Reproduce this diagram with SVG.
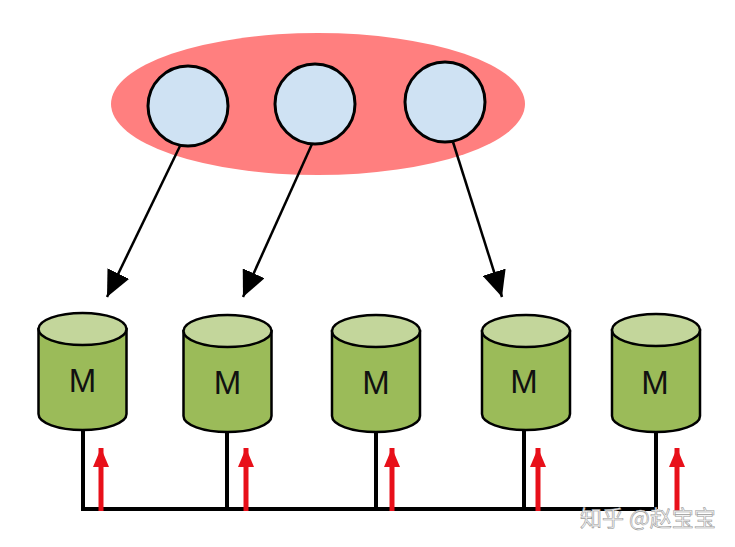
<svg xmlns="http://www.w3.org/2000/svg" width="735" height="547" viewBox="0 0 735 547">
<style>
.node circle{fill:#cfe2f3;stroke:#000;stroke-width:3}
.cyl path,.cyl ellipse{stroke:#000;stroke-width:2.5}
.body{fill:#9bbb59}
.top{fill:#c3d69b}
.lbl{font-family:"Liberation Sans",Arial,sans-serif;font-size:33px;fill:#111;text-anchor:middle}
.conn{stroke:#000;stroke-width:2.5;fill:none}
.bus{stroke:#000;stroke-width:4;fill:none}
.red{stroke:#e8101a;stroke-width:5;fill:none}
</style>
<defs>
<marker id="ah" markerUnits="userSpaceOnUse" markerWidth="28" markerHeight="24" refX="26" refY="12" orient="auto">
<path d="M0,0 L26,12 L0,24 Z" fill="#000"/>
</marker>
<marker id="rh" markerUnits="userSpaceOnUse" markerWidth="20" markerHeight="16" refX="19" refY="8" orient="auto">
<path d="M0,0 L19,8 L0,16 Z" fill="#e8101a"/>
</marker>
</defs>
<ellipse id="group" cx="318" cy="104" rx="207" ry="71" fill="#ff7f7f"/>
<g id="c1" class="node"><circle cx="188" cy="106" r="40"/></g>
<g id="c2" class="node"><circle cx="315" cy="104" r="40"/></g>
<g id="c3" class="node"><circle cx="445" cy="102" r="40"/></g>
<g id="m1" class="cyl">
<path class="body" d="M38.5,329 L38.5,414 A44,16 0 0 0 126.5,414 L126.5,329 Z"/>
<ellipse class="top" cx="82.5" cy="329" rx="44" ry="16"/>
<text class="lbl" x="82.5" y="392">M</text>
</g>
<g id="m2" class="cyl">
<path class="body" d="M183.5,331 L183.5,416 A44,16 0 0 0 271.5,416 L271.5,331 Z"/>
<ellipse class="top" cx="227.5" cy="331" rx="44" ry="16"/>
<text class="lbl" x="227.5" y="394">M</text>
</g>
<g id="m3" class="cyl">
<path class="body" d="M332,331 L332,416 A44,16 0 0 0 420,416 L420,331 Z"/>
<ellipse class="top" cx="376" cy="331" rx="44" ry="16"/>
<text class="lbl" x="376" y="394">M</text>
</g>
<g id="m4" class="cyl">
<path class="body" d="M482,331 L482,414 A44,16 0 0 0 570,414 L570,331 Z"/>
<ellipse class="top" cx="526" cy="331" rx="44" ry="16"/>
<text class="lbl" x="524" y="393">M</text>
</g>
<g id="m5" class="cyl">
<path class="body" d="M612,330 L612,416 A44,16 0 0 0 700,416 L700,330 Z"/>
<ellipse class="top" cx="656" cy="330" rx="44" ry="16"/>
<text class="lbl" x="655" y="394">M</text>
</g>
<g id="connectors">
<line class="conn" x1="180" y1="146" x2="107" y2="297" marker-end="url(#ah)"/>
<line class="conn" x1="312" y1="144" x2="243" y2="297" marker-end="url(#ah)"/>
<line class="conn" x1="453" y1="142" x2="502" y2="297" marker-end="url(#ah)"/>
<path class="bus" d="M83,430 L83,509 L657,509 M227,432 L227,509 M376,432 L376,509 M524,430 L524,509 M656,432 L656,509"/>
<line class="red" x1="101" y1="511" x2="101" y2="448" marker-end="url(#rh)"/>
<line class="red" x1="246" y1="511" x2="246" y2="448" marker-end="url(#rh)"/>
<line class="red" x1="392" y1="511" x2="392" y2="448" marker-end="url(#rh)"/>
<line class="red" x1="538" y1="511" x2="538" y2="448" marker-end="url(#rh)"/>
<line class="red" x1="677" y1="511" x2="677" y2="448" marker-end="url(#rh)"/>
</g>
<text x="580" y="526" font-family="'Noto Sans CJK SC',sans-serif" font-size="22" fill="#f4f4f4" stroke="#9a9a9a" stroke-width="0.6">知乎 @赵宝宝</text>
</svg>
